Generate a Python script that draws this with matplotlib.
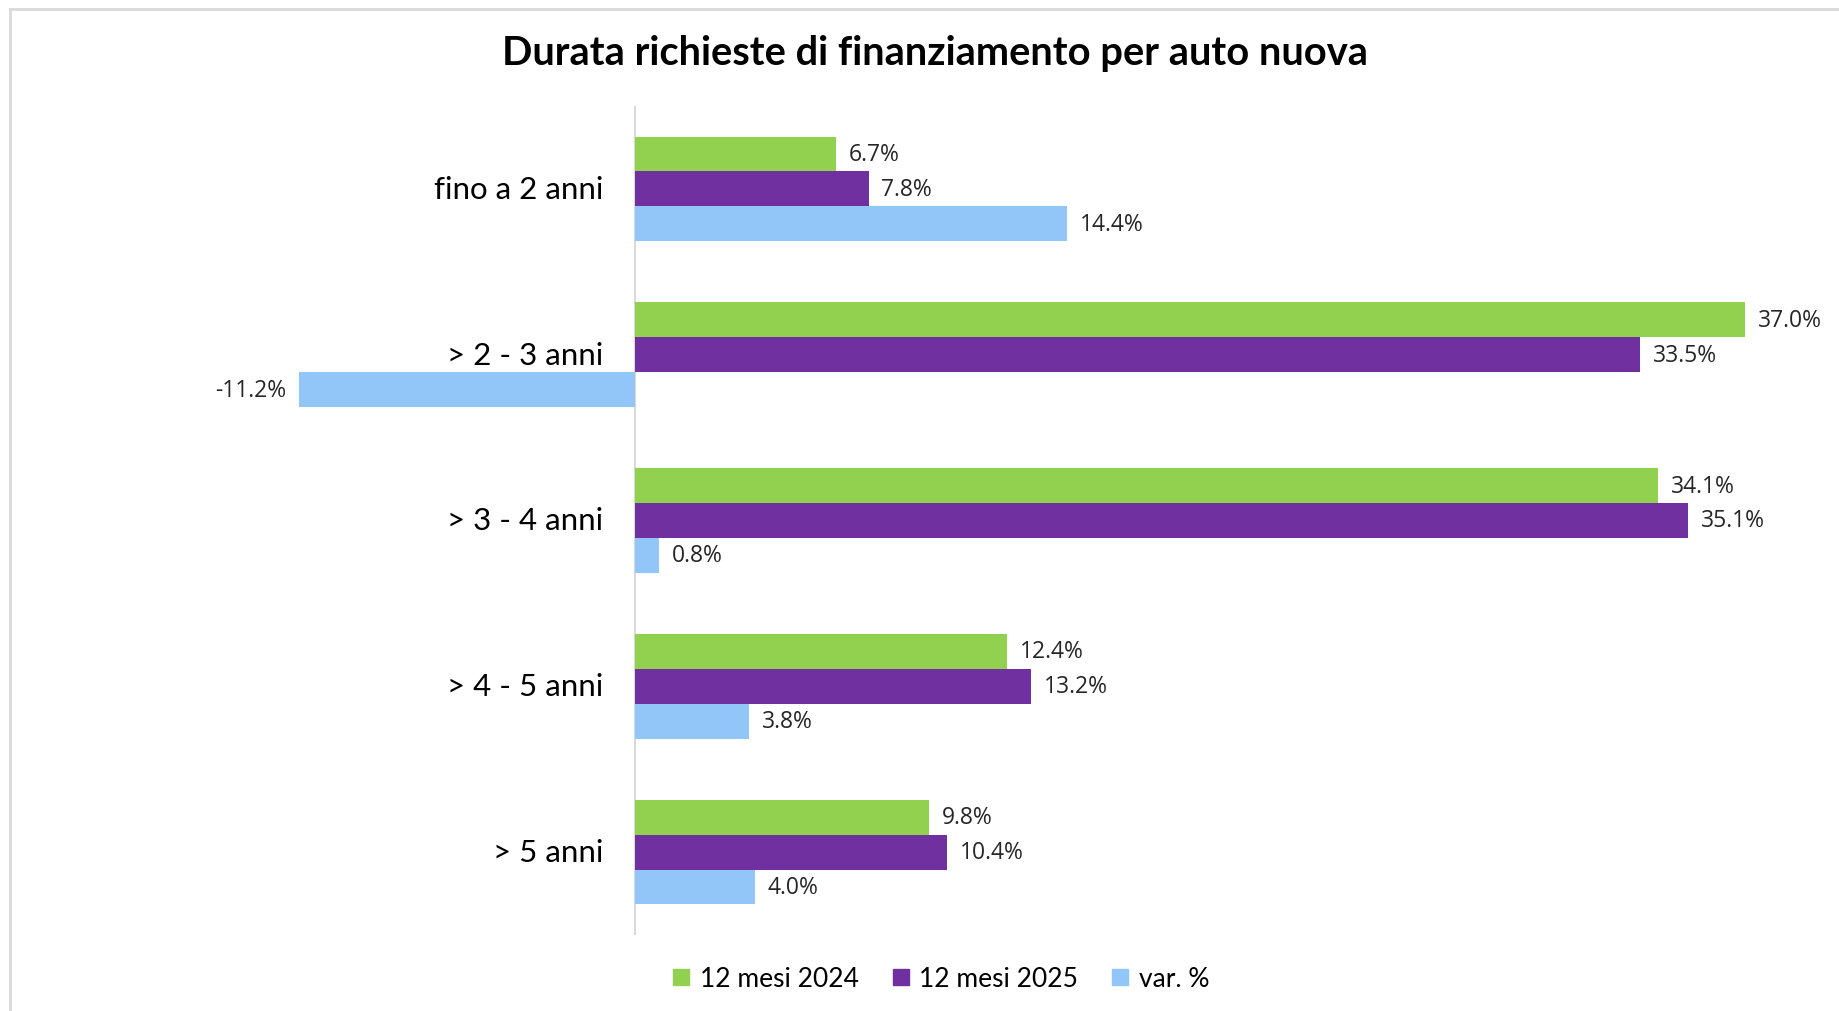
import numpy as np
import matplotlib
matplotlib.use("Agg")
import matplotlib.pyplot as plt
from matplotlib.lines import Line2D

plt.rcParams["font.family"] = ["Lato", "DejaVu Sans"]

# dati
categorie = ["fino a 2 anni", "> 2 - 3 anni", "> 3 - 4 anni", "> 4 - 5 anni", "> 5 anni"]
serie = ["12 mesi 2024", "12 mesi 2025", "var. %"]
mesi_2024 = [6.7, 37.0, 34.1, 12.4, 9.8]
mesi_2025 = [7.8, 33.5, 35.1, 13.2, 10.4]
variazione = [14.4, -11.2, 0.8, 3.8, 4.0]
colori = ["#92D050", "#7030A0", "#92C5F8"]

fig = plt.figure(figsize=(18.4, 10.12), dpi=100)
ax = fig.add_axes([185 / 1840, 76 / 1012, 1650 / 1840, 829 / 1012])

y = np.arange(len(categorie))
h = 0.21
valori = [mesi_2024, mesi_2025, variazione]
for i, (vals, col, nome) in enumerate(zip(valori, colori, serie)):
    pos = y + (i - 1) * h
    ax.barh(pos, vals, height=h, color=col, label=nome)
    for p, v in zip(pos, vals):
        if v >= 0:
            ax.annotate(f"{v:.1f}%", (v, p), xytext=(9, 0), textcoords="offset points",
                        ha="left", va="center", fontsize=16.5, color="#262626",
                        family=["Open Sans", "DejaVu Sans"])
        else:
            ax.annotate(f"{v:.1f}%", (v, p), xytext=(-9, 0), textcoords="offset points",
                        ha="right", va="center", fontsize=16.5, color="#262626",
                        family=["Open Sans", "DejaVu Sans"])

# etichette categorie accanto all'asse
for yy, c in zip(y, categorie):
    ax.annotate(c, (0, yy), xytext=(-23, 0), textcoords="offset points",
                ha="right", va="center", fontsize=22.5, color="#000000")

ax.set_xlim(-15, 40)
ax.set_ylim(4.5, -0.5)
ax.axvline(0, color="#D9D9D9", lw=1.5, zorder=0)
ax.set_xticks([])
ax.set_yticks([])
for s in ax.spines.values():
    s.set_visible(False)

fig.text(935 / 1840, 1 - 54 / 1012, "Durata richieste di finanziamento per auto nuova",
         ha="center", va="center", fontsize=28.7, fontweight="bold")

handles = [Line2D([], [], marker="s", linestyle="none", markersize=11,
                  markerfacecolor=c, markeredgecolor=c) for c in colori]
fig.legend(handles, serie, loc="center", bbox_to_anchor=(940 / 1840, 1 - 980 / 1012),
           ncol=3, frameon=False, fontsize=19, handlelength=0.8, handletextpad=0.3,
           columnspacing=1.2)

# bordo del grafico
fig.add_artist(Line2D([10 / 1840, 1], [1 - 10 / 1012, 1 - 10 / 1012], color="#D9D9D9", lw=2))
fig.add_artist(Line2D([10 / 1840, 10 / 1840], [0, 1 - 10 / 1012], color="#D9D9D9", lw=2))

fig.savefig("out.png", dpi=100, facecolor="white")
